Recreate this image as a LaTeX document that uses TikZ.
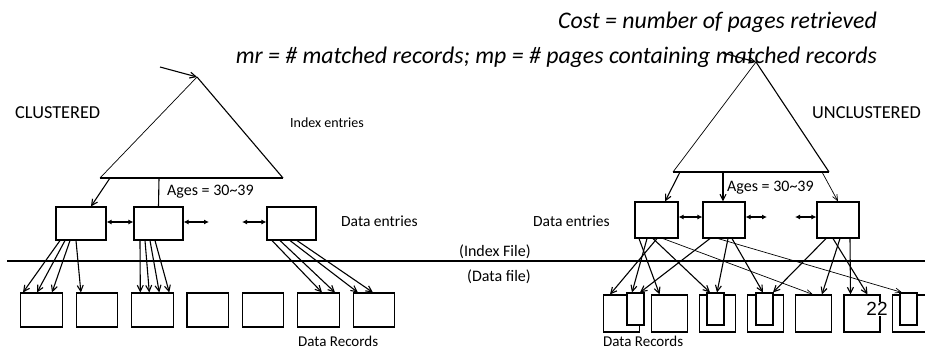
\documentclass[tikz,border=0pt]{standalone}
\usepackage{fontspec}
\setmainfont{Carlito}
\newfontfamily\slidefont{Liberation Sans}
\usetikzlibrary{arrows.meta}

\tikzset{
  lbl/.style={inner sep=0pt, anchor=west, font=\fontsize{15}{18}\selectfont},
  page/.style={draw, line width=1.1pt, fill=white, inner sep=0pt},
  ptr/.style={line width=1.1pt, -{Straight Barb[length=6pt,width=6pt]}},
  thinptr/.style={line width=0.7pt, -{Straight Barb[length=6pt,width=5pt]}},
  link/.style={line width=1.3pt, {Latex[length=5pt,width=5pt]}-{Latex[length=5pt,width=5pt]}}
}

\begin{document}
\begin{tikzpicture}[x=1pt,y=-1pt]
\clip (0,0) rectangle (925,349);
\fill[white] (0,0) rectangle (925,349);

\node[anchor=base east, inner sep=0pt, font=\itshape\fontsize{23.8}{28}\selectfont] (cost) at (877,28) {Cost = number of pages retrieved};
\node[anchor=base east, inner sep=0pt, font=\itshape\fontsize{23.8}{28}\selectfont] (legend) at (877,63) {mr = \# matched records; mp = \# pages containing matched records};

% clustered
\coordinate (ltop) at (197,77);
\coordinate (lbl) at (100,178);
\coordinate (lbr) at (283,178);
\draw[line width=0.7pt] (lbl) -- (ltop);
\draw[line width=1.1pt] (ltop) -- (lbr);
\draw[line width=1.8pt] (lbl) -- (lbr);
\coordinate (lin) at (160,67);
\draw[ptr] (lin) -- (ltop);

\node[lbl, font=\fontsize{18.3}{21}\selectfont] (clus) at (15,113) {CLUSTERED};
\node[lbl, font=\fontsize{14}{17}\selectfont] (lidx) at (290,123) {Index entries};
\node[lbl, font=\fontsize{16}{19}\selectfont] (lages) at (167,192) {Ages = 30\textasciitilde 39};
\node[lbl, font=\fontsize{15.5}{18}\selectfont] (lde) at (341,221) {Data entries};
\node[lbl] (ldr) at (298,341) {Data Records};

\node[page, minimum width=50pt, minimum height=33pt] (lde1) at (81,223.5) {};
\node[page, minimum width=49pt, minimum height=33pt] (lde2) at (158.5,223.5) {};
\node[page, minimum width=49pt, minimum height=33pt] (lde3) at (291.5,223.5) {};

\coordinate (lb1) at (110,178);
\coordinate (lb2) at (159,178);
\draw[ptr] (lb1) -- ([xshift=10]lde1.north);
\draw[line width=1.1pt] (lb2) -- (lde2.north);

\coordinate (lgap1) at (209,222);
\coordinate (lgap2) at (242,222);
\draw[link] ([yshift=1.5]lde1.east) -- ([yshift=1.5]lde2.west);
\draw[link] ([yshift=1.5]lde2.east) -- (lgap1);
\draw[link] (lgap2) -- ([yshift=1.5]lde3.west);

\foreach \i in {1,...,7}
  \node[page, minimum width=41.5pt, minimum height=34pt] (ldr\i) at ({41.5+55.4*(\i-1)},310) {};

\foreach \b/\s/\d/\e in {1/-21/1/-18.5, 1/-16/1/-4.5, 1/-11/1/10.5, 1/-5/2/-16,
                         2/-18.5/3/-12, 2/-13.5/3/-3, 2/-8.5/3/7, 2/-3.5/3/17,
                         3/-19.5/6/3.5, 3/-11.5/6/16.5, 3/-1.5/7/-16, 3/5.5/7/-1}
  \draw[ptr] ([xshift=\s]lde\b.south) -- ([xshift=\e]ldr\d.north);

% file boundary
\coordinate (sepl) at (7,261);
\coordinate (sepr) at (925,261);
\draw[line width=2pt] (sepl) -- (sepr);
\node[lbl, font=\fontsize{16}{19}\selectfont] (ifile) at (459,252) {(Index File)};
\node[lbl, font=\fontsize{16}{19}\selectfont] (dfile) at (467,277) {(Data file)};

% unclustered
\coordinate (rtop) at (756,62);
\coordinate (rbl) at (673,172);
\coordinate (rbr) at (829,172);
\draw[line width=0.7pt] (rbl) -- (rtop);
\draw[line width=1.1pt] (rtop) -- (rbr);
\draw[line width=1.8pt] (rbl) -- (rbr);
\coordinate (rin) at (723,53);
\draw[ptr] (rin) -- (rtop);

\node[lbl, font=\fontsize{18.3}{21}\selectfont] (unclus) at (812,113) {UNCLUSTERED};
\node[lbl, font=\fontsize{16}{19}\selectfont] (rages) at (727,188) {Ages = 30\textasciitilde 39};
\node[lbl, font=\fontsize{15.5}{18}\selectfont] (rde) at (533,221) {Data entries};
\node[lbl] (rdr) at (603,341) {Data Records};

\node[page, minimum width=43pt, minimum height=36pt] (rde1) at (656.5,220) {};
\node[page, minimum width=42pt, minimum height=36pt] (rde2) at (724,220) {};
\node[page, minimum width=42pt, minimum height=36pt] (rde3) at (838,220) {};

\coordinate (rb1) at (680,172);
\coordinate (rb2) at (723,172);
\coordinate (rb3) at (822,172);
\draw[ptr] (rb1) -- ([xshift=8.5]rde1.north);
\draw[ptr] (rb2) -- ([xshift=-1]rde2.north);
\draw[thinptr] (rb3) -- (rde3.north);

\coordinate (rgap1) at (767,217);
\coordinate (rgap2) at (795,217);
\draw[link] ([yshift=3]rde1.east) -- ([yshift=3]rde2.west);
\draw[link] ([yshift=3]rde2.east) -- (rgap1);
\draw[link] (rgap2) -- ([yshift=3]rde3.west);

\foreach \i in {1,...,7}
  \node[page, minimum width=36pt, minimum height=37pt] (rdr\i) at ({621.5+48.1*(\i-1)},313.5) {};
\foreach \i/\x in {1/635.5, 3/715.5, 4/764.5, 7/908.5}
  \node[page, minimum width=17pt, minimum height=32pt] (rsub\i) at (\x,309) {};

\node[inner sep=0pt, fill=white, font=\slidefont\fontsize{19}{22}\selectfont] (slide) at (877,309) {22};

\foreach \b/\s/\d/\e in {1/-17.5/rdr2/-10, 1/0.5/rdr1/-11.5, 1/-9.5/rsub1/-3.5, 1/-3.5/rsub3/-5.5,
                         2/-14/rsub1/4.5, 2/4/rsub3/1.5, 2/8/rsub4/-1.5,
                         3/-12/rsub4/8.5, 3/2/rdr5/8, 3/12/rdr6/-11.5, 3/-5/rdr6/5.5}
  \draw[ptr] ([xshift=\s]rde\b.south) -- ([xshift=\e]\d.north);
\draw[thinptr] ([xshift=6.5]rde1.south) -- ([xshift=-1]rdr5.north);
\draw[thinptr] ([xshift=-6]rde2.south) -- ([xshift=-6.5]rsub7.north);
\end{tikzpicture}
\end{document}
